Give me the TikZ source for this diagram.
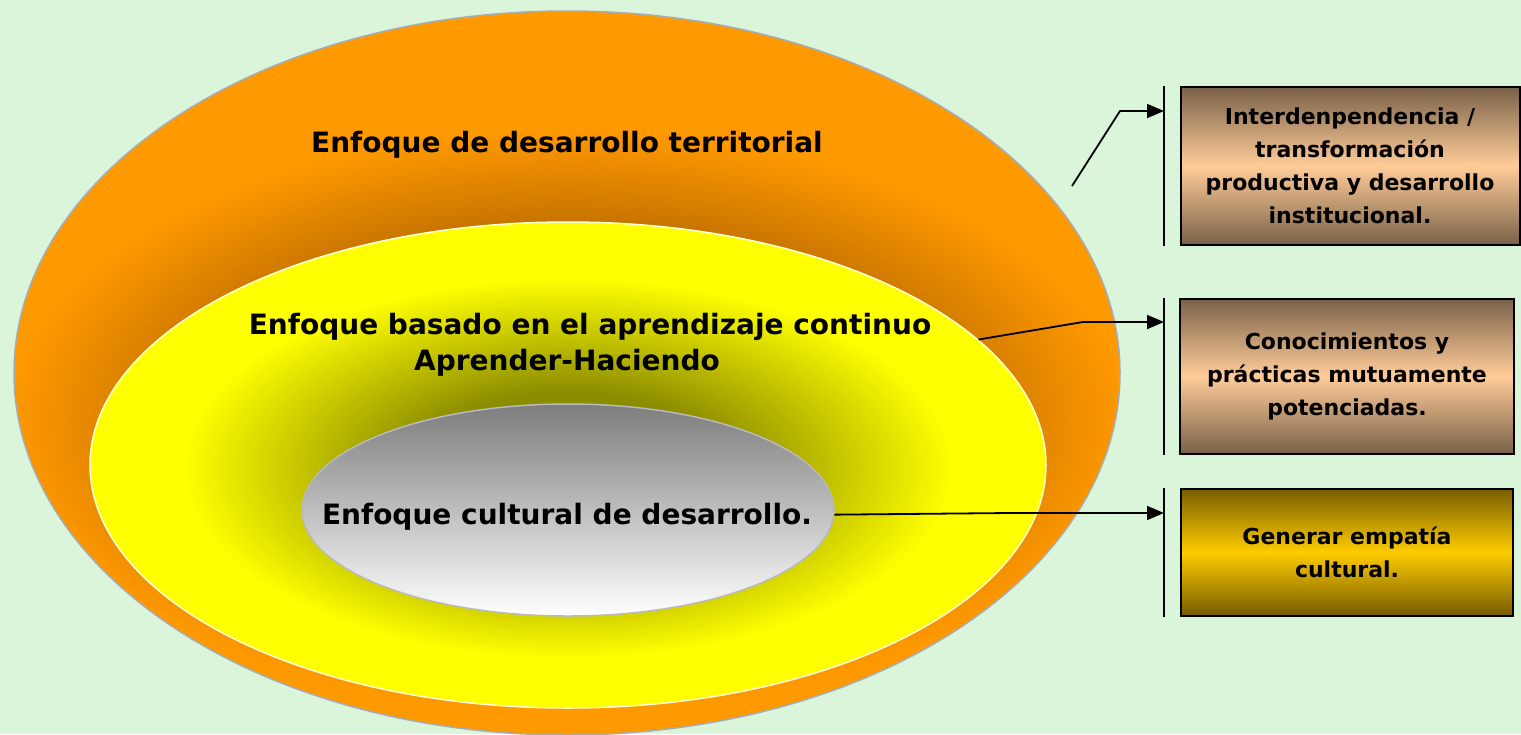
\documentclass[tikz,border=0pt]{standalone}
\usepackage{fontspec}
\setmainfont{DejaVu Sans}
\usetikzlibrary{shapes.geometric,arrows.meta}

\definecolor{mint}{RGB}{219,245,219}
\definecolor{orbase}{RGB}{255,153,0}
\definecolor{orshade}{RGB}{188,108,0}
\definecolor{orline}{RGB}{165,172,185}
\definecolor{ylbase}{RGB}{255,255,0}
\definecolor{ylshade}{RGB}{140,140,0}
\definecolor{ylline}{RGB}{255,255,215}
\definecolor{grtop}{RGB}{125,125,125}
\definecolor{grline}{RGB}{185,185,190}
\definecolor{brownedge}{RGB}{122,97,72}
\definecolor{peach}{RGB}{255,204,153}
\definecolor{oliveedge}{RGB}{118,92,0}
\definecolor{gold}{RGB}{255,204,0}

\pgfdeclareradialshading{orglow}{\pgfpoint{0bp}{0bp}}{color(0bp)=(orshade); color(15.5bp)=(orshade); color(25bp)=(orbase); color(50bp)=(orbase)}
\pgfdeclareradialshading{ylglow}{\pgfpoint{0bp}{0bp}}{color(0bp)=(ylshade); color(10bp)=(ylshade); color(25bp)=(ylbase); color(50bp)=(ylbase)}

\newcommand\ringfont{\fontsize{28}{36}\selectfont\bfseries}
\newcommand\boxfont{\fontsize{22}{33}\selectfont\bfseries}

\begin{document}
\begin{tikzpicture}[x=1pt, y=-1pt,
  ring/.style={ellipse, inner sep=0pt, line width=1.5pt},
  ringlbl/.style={font=\ringfont, align=center, inner sep=0pt},
  infobox/.style={draw=black, line width=2pt, align=center, font=\boxfont},
  link/.style={line width=1.8pt, -{Triangle[length=17pt,width=14pt]}},
  bar/.style={line width=1.4pt}]

\fill[mint] (0,0) rectangle (1521,734);
\useasboundingbox (0,0) rectangle (1521,734);

% nested ellipses
\node[ring, fill=orbase, draw=orline, minimum width=1106pt, minimum height=724pt] (ter) at (567,373) {};
\begin{scope}
  \clip (ter.center) ellipse [x radius=552, y radius=361];
  \shade[shading=orglow] (568,420) ellipse [x radius=560, y radius=290];
\end{scope}

\node[ring, fill=ylbase, draw=ylline, minimum width=956pt, minimum height=486pt] (apr) at (568,465) {};
\begin{scope}
  \clip (apr.center) ellipse [x radius=477, y radius=242];
  \shade[shading=ylglow] (568,468) ellipse [x radius=385, y radius=190];
\end{scope}

\node[ring, top color=grtop, bottom color=white, draw=grline, minimum width=532pt, minimum height=212pt] (cul) at (568,510) {};

\node[ringlbl] (terlbl) at (567,145) {Enfoque de desarrollo territorial};
\node[ringlbl] (aprlbl) at (590,345) {Enfoque basado en el aprendizaje continuo\\\hspace*{-46pt}Aprender-Haciendo};
\node[ringlbl] (cullbl) at (567,517) {Enfoque cultural de desarrollo.};

% boxes on the right
\node[infobox, minimum width=339pt, minimum height=158pt, top color=brownedge, bottom color=brownedge, middle color=peach] (box1) at (1350,166)
  {Interdenpendencia /\\transformación\\productiva y desarrollo\\institucional.};
\node[infobox, minimum width=334pt, minimum height=155pt, top color=brownedge, bottom color=brownedge, middle color=peach] (box2) at (1347,376)
  {Conocimientos y\\prácticas mutuamente\\potenciadas.};
\node[infobox, minimum width=332pt, minimum height=127pt, top color=oliveedge, bottom color=oliveedge, middle color=gold] (box3) at (1347,552)
  {Generar empatía\\cultural.};

% connectors
\coordinate (s1) at (1072,186);
\coordinate (k1) at (1120,111);
\coordinate (e1) at (1164,111);
\coordinate (k2) at (1083,322);
\coordinate (e2) at (1164,322);
\coordinate (k3) at (1010,513);
\coordinate (e3) at (1164,513);

\draw[link] (s1) -- (k1) -- (e1);
\draw[link] (apr.17) -- (k2) -- (e2);
\draw[link] (cul.-1.5) -- (k3) -- (e3);

\draw[bar] (e1 |- box1.north) -- (e1 |- box1.south);
\draw[bar] (e2 |- box2.north) -- (e2 |- box2.south);
\draw[bar] (e3 |- box3.north) -- (e3 |- box3.south);

\end{tikzpicture}
\end{document}
